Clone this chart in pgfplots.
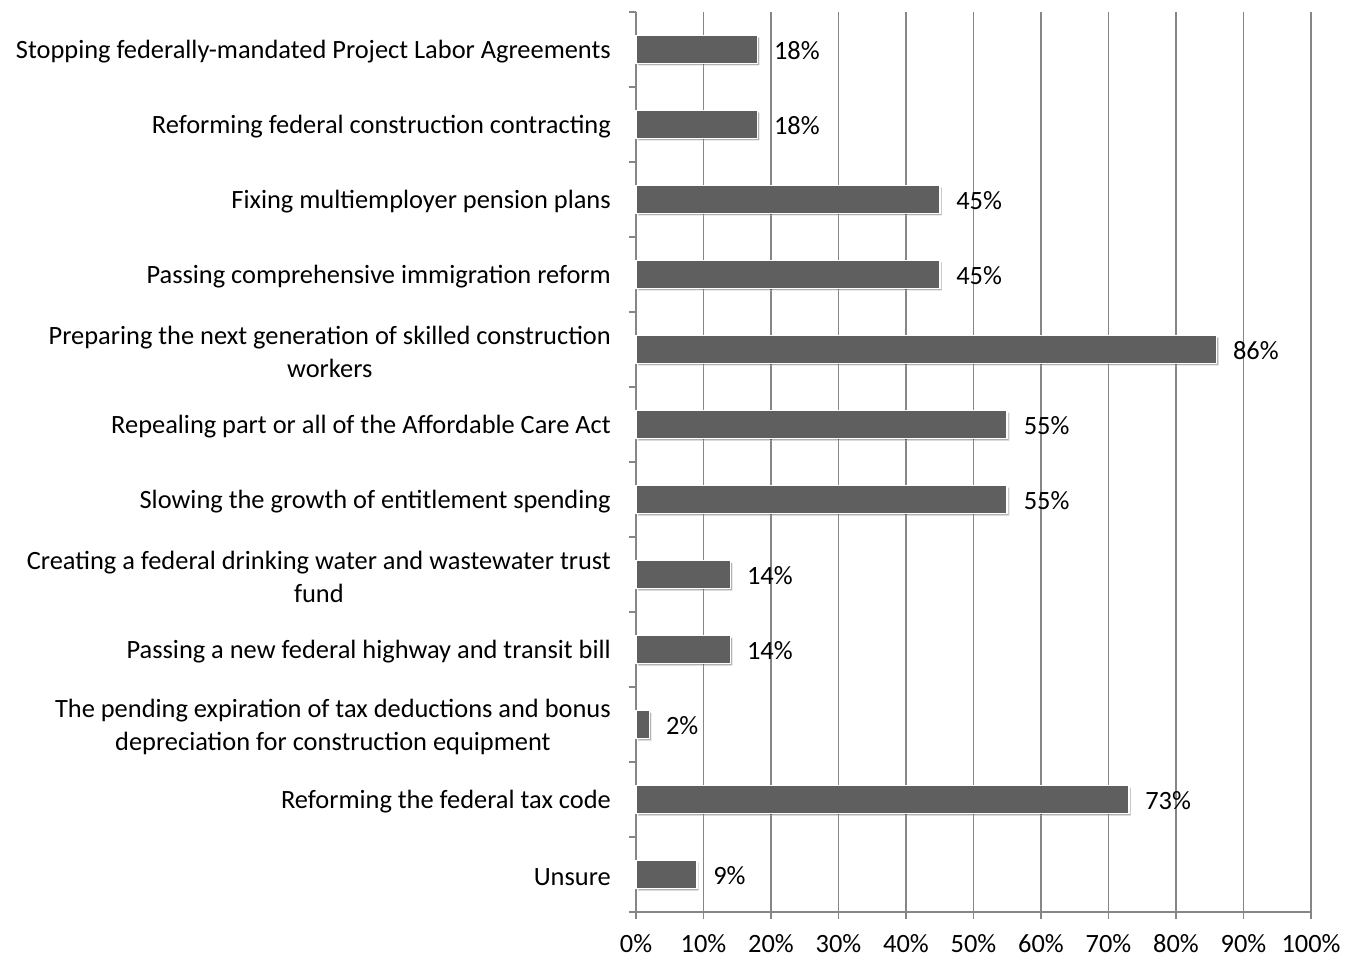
\documentclass[border=0pt]{standalone}
\usepackage{fontspec}
\setmainfont{Carlito}
\usepackage{pgfplots}
\pgfplotsset{compat=1.18}
\usetikzlibrary{shadows}
\definecolor{barc}{RGB}{95,95,95}
\definecolor{gridc}{RGB}{134,134,134}
\begin{document}
\fontsize{13.2}{16.5}\selectfont
\begin{tikzpicture}
\begin{axis}[
  scale only axis, width=337.5pt, height=450pt,
  xmin=0, xmax=100, ymin=-0.5, ymax=11.5, y dir=reverse,
  clip=false,
  axis x line*=bottom, axis y line*=left,
  axis line style={gridc, line width=0.7pt},
  xtick={0,10,...,100},
  xticklabels={0\%,10\%,20\%,30\%,40\%,50\%,60\%,70\%,80\%,90\%,100\%},
  xmajorgrids, grid style={gridc, line width=0.7pt},
  tick align=outside, major tick length=3.5pt,
  tick style={gridc, line width=0.7pt},
  ytick={-0.5,0.5,...,11.5},
  y tick label as interval,
  yticklabels={
    Stopping federally-mandated Project Labor Agreements,
    Reforming federal construction contracting,
    Fixing multiemployer pension plans,
    Passing comprehensive immigration reform,
    Preparing the next generation of skilled construction\\workers,
    Repealing part or all of the Affordable Care Act,
    Slowing the growth of entitlement spending,
    Creating a federal drinking water and wastewater trust\\fund,
    Passing a new federal highway and transit bill,
    The pending expiration of tax deductions and bonus\\depreciation for construction equipment,
    Reforming the federal tax code,
    Unsure},
  yticklabel style={align=center, black, xshift=-4.5pt, yshift=-1.2pt},
  xticklabel style={black, yshift=-3pt},
  /pgf/number format/assume math mode=true,
  point meta=x,
  nodes near coords={\pgfmathprintnumber{\pgfplotspointmeta}\%},
  nodes near coords style={anchor=west, xshift=3.5pt, yshift=-0.5pt, black},
]
\addplot[xbar, bar width=14pt, fill=barc, draw=white, line width=0.8pt,
  drop shadow={shadow xshift=1pt, shadow yshift=-1pt, opacity=0.3, fill=black}]
  coordinates {(18,0) (18,1) (45,2) (45,3) (86,4) (55,5) (55,6) (14,7) (14,8) (2,9) (73,10) (9,11)};
\coordinate (bl) at (axis cs:0,11.5);
\coordinate (tr) at (axis cs:100,-0.5);
\end{axis}
\pgfresetboundingbox
\path[use as bounding box] ([shift={(-318pt,-22pt)}]bl) rectangle ([shift={(20.5pt,6pt)}]tr);
\end{tikzpicture}
\end{document}
